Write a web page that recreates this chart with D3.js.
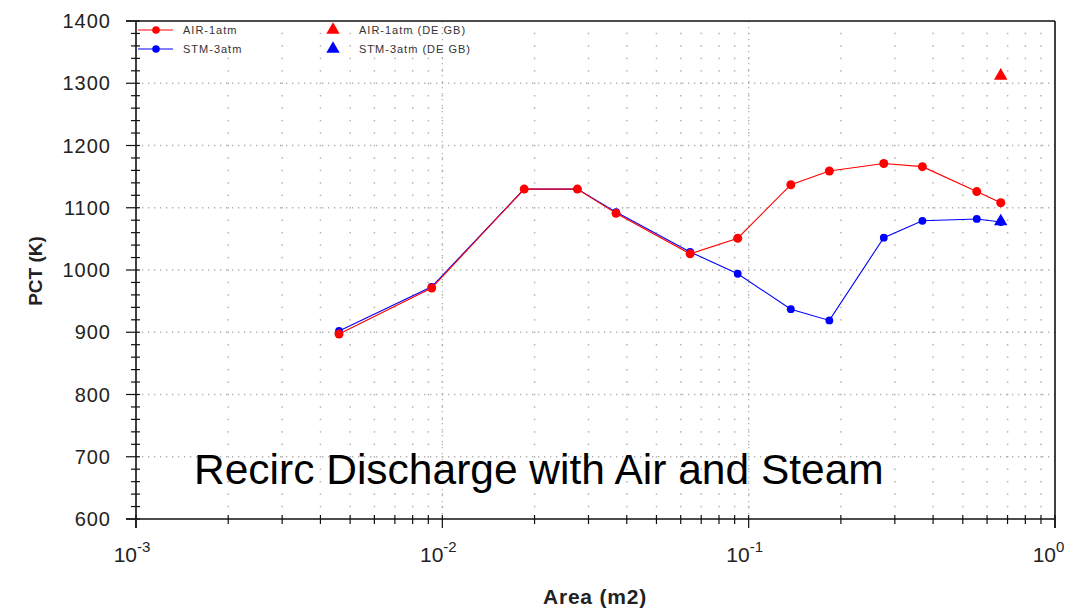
<!DOCTYPE html>
<html>
<head>
<meta charset="utf-8">
<script src="https://cdn.jsdelivr.net/npm/d3@7"></script>
<style>
  html, body { margin: 0; padding: 0; background: #fff; }
  svg { display: block; font-family: "Liberation Sans", Arial, sans-serif; }
</style>
</head>
<body>
<svg id="chart" width="1079" height="609"></svg>
<script>
// Break area (m2) for each case
const areas = [0.0046, 0.00923, 0.0185, 0.0276, 0.0369, 0.0644, 0.0921, 0.1373, 0.1834, 0.2761, 0.3691, 0.5555, 0.6653];
// Peak clad temperature (K)
const airPct = [897, 971, 1130, 1130, 1091, 1026, 1051, 1137, 1159, 1171, 1166, 1126, 1108];
const stmPct = [902, 973, 1130, 1130, 1093, 1029, 994, 937, 919, 1052, 1079, 1082, 1077];
// Double-ended guillotine break results
const degbArea = [0.665];
const airDegb = [1312];
const stmDegb = [1078];

const seriesNames = ["AIR-1atm", "STM-3atm", "AIR-1atm (DE GB)", "STM-3atm (DE GB)"];
const xDecades = [-3, -2, -1, 0];
const yTicks = [600, 700, 800, 900, 1000, 1100, 1200, 1300, 1400];
const chartTitle = "Recirc Discharge with Air and Steam";

const RED = "#ff0000", BLUE = "#0000ff";
const svg = d3.select("#chart");
const m = { left: 136, right: 1055, top: 21, bottom: 519 };

const x = d3.scaleLog().domain([1e-3, 1]).range([m.left, m.right]);
const y = d3.scaleLinear().domain([600, 1400]).range([m.bottom, m.top]);

// x tick positions: 1..9 within each decade
const xAll = [];
xDecades.slice(0, -1).forEach(d => {
  for (let k = 1; k <= 9; k++) xAll.push(k * Math.pow(10, d));
});
xAll.push(1);
const yMinor = d3.range(600, 1401, 20);

// grid: dotted major lines
const grid = svg.append("g");
xDecades.slice(1, -1).forEach(d => {
  grid.append("line")
    .attr("x1", x(Math.pow(10, d))).attr("x2", x(Math.pow(10, d)))
    .attr("y1", m.top).attr("y2", m.bottom)
    .attr("stroke", "#b0b0b0").attr("stroke-width", 1.3)
    .attr("stroke-dasharray", "1.3 4.7");
});
yTicks.slice(1, -1).forEach(v => {
  grid.append("line")
    .attr("x1", m.left).attr("x2", m.right)
    .attr("y1", y(v)).attr("y2", y(v))
    .attr("stroke", "#b0b0b0").attr("stroke-width", 1.3)
    .attr("stroke-dasharray", "1.3 4.7");
});
// minor grid: dots at minor intersections
const dots = [];
xAll.forEach(xv => yMinor.forEach(yv => {
  const px = x(xv), py = y(yv);
  if (px > m.left + 1 && px < m.right - 1 && py > m.top + 1 && py < m.bottom - 1) dots.push([px, py]);
}));
grid.selectAll("rect.dot").data(dots).join("rect")
  .attr("class", "dot")
  .attr("x", d => d[0] - 0.7).attr("y", d => d[1] - 0.7)
  .attr("width", 1.5).attr("height", 1.5)
  .attr("fill", "#b4b4b4");

// frame
const axisColor = "#111";
svg.append("line").attr("x1", m.left - 10).attr("x2", m.right).attr("y1", m.top).attr("y2", m.top)
  .attr("stroke", axisColor).attr("stroke-width", 1.6);
svg.append("line").attr("x1", m.right).attr("x2", m.right).attr("y1", m.top).attr("y2", m.bottom + 9)
  .attr("stroke", axisColor).attr("stroke-width", 1.6);
svg.append("line").attr("x1", m.left).attr("x2", m.left).attr("y1", m.top).attr("y2", m.bottom + 9)
  .attr("stroke", axisColor).attr("stroke-width", 1.6);
svg.append("line").attr("x1", m.left - 10).attr("x2", m.right).attr("y1", m.bottom).attr("y2", m.bottom)
  .attr("stroke", axisColor).attr("stroke-width", 1.6);

// y ticks
yMinor.forEach(v => {
  const major = v % 100 === 0;
  svg.append("line")
    .attr("x1", major ? m.left - 10 : m.left - 5).attr("x2", m.left + 4)
    .attr("y1", y(v)).attr("y2", y(v))
    .attr("stroke", axisColor).attr("stroke-width", 1.2);
});
svg.append("g").selectAll("text").data(yTicks).join("text")
  .attr("x", 111).attr("y", d => y(d)).attr("dy", "0.36em")
  .attr("text-anchor", "end")
  .attr("font-size", 20).attr("letter-spacing", 1).attr("fill", "#222")
  .text(d => d);

// x ticks
xAll.forEach(v => {
  const lg = Math.log10(v);
  const major = Math.abs(lg - Math.round(lg)) < 1e-9;
  svg.append("line")
    .attr("x1", x(v)).attr("x2", x(v))
    .attr("y1", m.bottom - 4).attr("y2", major ? m.bottom + 9 : m.bottom + 5)
    .attr("stroke", axisColor).attr("stroke-width", 1.2);
});
const xl = svg.append("g").selectAll("g").data(xDecades).join("g");
xl.append("text")
  .attr("x", d => x(Math.pow(10, d)) + 1).attr("y", 562)
  .attr("text-anchor", "end")
  .attr("font-size", 21).attr("fill", "#222")
  .text("10");
xl.append("text")
  .attr("x", d => x(Math.pow(10, d)) + 1).attr("y", 552)
  .attr("text-anchor", "start")
  .attr("font-size", 15).attr("fill", "#222")
  .text(d => d === 0 ? "0" : String(d));

// axis titles
svg.append("text")
  .attr("x", 595).attr("y", 604).attr("text-anchor", "middle")
  .attr("font-size", 21).attr("font-weight", "bold").attr("letter-spacing", 0.8).attr("fill", "#222")
  .text("Area (m2)");
svg.append("text")
  .attr("transform", "translate(42,271) rotate(-90)")
  .attr("text-anchor", "middle")
  .attr("font-size", 19).attr("font-weight", "bold").attr("fill", "#222")
  .text("PCT (K)");

// chart title inside the plot area
svg.append("text")
  .attr("x", 194).attr("y", 484)
  .attr("font-size", 42.5).attr("fill", "#000")
  .text(chartTitle);

// data series
const line = d3.line().x(d => x(d[0])).y(d => y(d[1]));
function drawSeries(vals, color, r) {
  const pts = areas.map((a, i) => [a, vals[i]]);
  svg.append("path").datum(pts)
    .attr("d", line).attr("fill", "none")
    .attr("stroke", color).attr("stroke-width", 1.1);
  svg.append("g").selectAll("circle").data(pts).join("circle")
    .attr("cx", d => x(d[0])).attr("cy", d => y(d[1])).attr("r", r)
    .attr("fill", color);
}
drawSeries(stmPct, BLUE, 3.9);
drawSeries(airPct, RED, 4.5);

const tri = d3.symbol().type(d3.symbolTriangle).size(78);
function drawTriangles(vals, color) {
  svg.append("g").selectAll("path").data(degbArea.map((a, i) => [a, vals[i]])).join("path")
    .attr("transform", d => `translate(${x(d[0])},${y(d[1])})`)
    .attr("d", tri).attr("fill", color);
}
drawTriangles(airDegb, RED);
drawTriangles(stmDegb, BLUE);

// legend
const legend = svg.append("g");
const rows = [
  { name: seriesNames[0], color: RED, ly: 30, kind: "line" },
  { name: seriesNames[1], color: BLUE, ly: 49, kind: "line" },
  { name: seriesNames[2], color: RED, ly: 30, kind: "tri" },
  { name: seriesNames[3], color: BLUE, ly: 49, kind: "tri" }
];
rows.forEach(r => {
  if (r.kind === "line") {
    legend.append("line").attr("x1", 138).attr("x2", 173).attr("y1", r.ly).attr("y2", r.ly)
      .attr("stroke", r.color).attr("stroke-width", 1.2);
    legend.append("circle").attr("cx", 156).attr("cy", r.ly).attr("r", 3.8).attr("fill", r.color);
    legend.append("text").attr("x", 183).attr("y", r.ly).attr("dy", "0.35em")
      .attr("font-size", 11).attr("letter-spacing", 1).attr("fill", "#333").text(r.name);
  } else {
    legend.append("path").attr("transform", `translate(333,${r.ly})`)
      .attr("d", tri).attr("fill", r.color);
    legend.append("text").attr("x", 359).attr("y", r.ly).attr("dy", "0.35em")
      .attr("font-size", 11).attr("letter-spacing", 1).attr("fill", "#333").text(r.name);
  }
});
</script>
</body>
</html>
